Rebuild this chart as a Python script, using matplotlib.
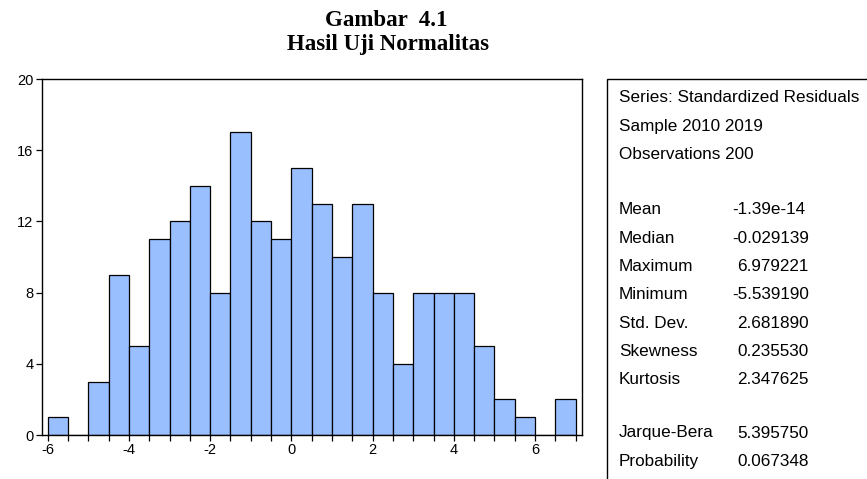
import numpy as np
import matplotlib
matplotlib.use("Agg")
import matplotlib.pyplot as plt
from matplotlib.patches import Rectangle

# bin edges and counts of the residual histogram
bin_edges = np.arange(-6.0, 7.01, 0.5)
counts = [1, 0, 3, 9, 5, 11, 12, 14, 8, 17, 12, 11, 15,
          13, 10, 13, 8, 4, 8, 8, 8, 5, 2, 1, 0, 2]

header_lines = ["Series: Standardized Residuals", "Sample 2010 2019", "Observations 200"]
stat_names = ["Mean", "Median", "Maximum", "Minimum", "Std. Dev.", "Skewness", "Kurtosis"]
stat_values = ["-1.39e-14", "-0.029139", "6.979221", "-5.539190", "2.681890", "0.235530", "2.347625"]
test_names = ["Jarque-Bera", "Probability"]
test_values = ["5.395750", "0.067348"]

plt.rcParams['font.family'] = ['Liberation Sans', 'DejaVu Sans']

fig = plt.figure(figsize=(8.67, 4.79), dpi=100)
ax = fig.add_axes([0.0481, 0.0918, 0.6229, 0.7432])

lefts = bin_edges[:-1]
ax.bar(lefts, counts, width=0.5, align='edge', color='#99bfff',
       edgecolor='black', linewidth=0.9)

ax.set_xlim(-6.148, 7.15)
ax.set_ylim(0, 20)
ax.set_yticks([0, 4, 8, 12, 16, 20])
ax.set_xticks(bin_edges)
ax.set_xticklabels([str(int(v)) if v % 2 == 0 else "" for v in bin_edges])
ax.tick_params(axis='both', direction='out', length=4, width=0.9,
               labelsize=10.5, pad=2, colors='black')
for s in ax.spines.values():
    s.set_linewidth(1.0)

fig.text(0.445, 0.958, "Gambar  4.1", ha='center', va='center',
         fontsize=16.5, fontweight='bold', family='Liberation Serif')
fig.text(0.447, 0.908, "Hasil Uji Normalitas", ha='center', va='center',
         fontsize=16.5, fontweight='bold', family='Liberation Serif')

# statistics box
box = Rectangle((607 / 867, -0.02), 0.32, 0.835 + 0.02, transform=fig.transFigure,
                fill=False, edgecolor='black', linewidth=1.0, clip_on=False)
fig.patches.append(box)

def ypos(py):
    return 1 - py / 479

fs = 12.3
x_name = 619 / 867
y0 = 98
step = 28.3
for i, line in enumerate(header_lines):
    fig.text(x_name, ypos(y0 + i * step), line, ha='left', va='center', fontsize=fs)

y1 = 210
for i, (n, v) in enumerate(zip(stat_names, stat_values)):
    y = ypos(y1 + i * step)
    fig.text(x_name, y, n, ha='left', va='center', fontsize=fs)
    xv = 732 if v.startswith('-') else 737
    fig.text(xv / 867, y, v, ha='left', va='center', fontsize=fs)

y2 = 433
for i, (n, v) in enumerate(zip(test_names, test_values)):
    y = ypos(y2 + i * step)
    fig.text(x_name, y, n, ha='left', va='center', fontsize=fs)
    fig.text(737 / 867, y, v, ha='left', va='center', fontsize=fs)

fig.savefig("out.png", dpi=100)
